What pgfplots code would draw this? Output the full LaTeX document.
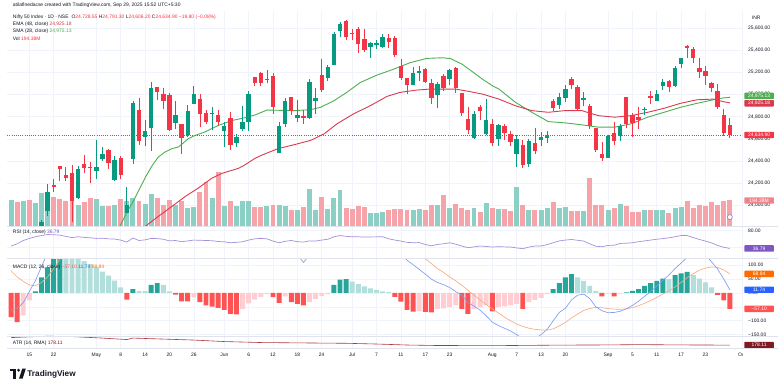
\documentclass[border=0pt]{standalone}
\usepackage{fontspec}
\setmainfont{Liberation Sans}
\usepackage{pgfplots}
\usepackage{pgfplotstable}
\pgfplotsset{compat=1.18}

\definecolor{upc}{HTML}{089981}
\definecolor{dnc}{HTML}{F23645}
\definecolor{vup}{HTML}{8BCFC5}
\definecolor{vdn}{HTML}{F6A3A9}
\definecolor{smac}{HTML}{4CAF50}
\definecolor{emac}{HTML}{D83A4E}
\definecolor{gridc}{HTML}{F0F3FA}
\definecolor{sepc}{HTML}{E0E3EB}
\definecolor{txt}{HTML}{131722}
\definecolor{rsic}{HTML}{A58FDA}
\definecolor{rsibox}{HTML}{7E57C2}
\definecolor{macdc}{HTML}{7D9DF3}
\definecolor{macdbox}{HTML}{2962FF}
\definecolor{sigc}{HTML}{F5AD7E}
\definecolor{sigbox}{HTML}{FF6D00}
\definecolor{hdark}{HTML}{26A69A}
\definecolor{hlight}{HTML}{B2DFDB}
\definecolor{hred}{HTML}{FF5252}
\definecolor{hpink}{HTML}{FFCDD2}
\definecolor{atrc}{HTML}{B0363C}
\definecolor{atrbox}{HTML}{801922}
\definecolor{volbox}{HTML}{F0848B}
\definecolor{iconc}{HTML}{9575CD}

\newcommand\sm{\fontsize{5}{6}\selectfont}

\pgfplotstableread{
k O H L C V
0 22446 22698 22270 22536 199
2 22695 22923 22695 22829 187
4 23345 23452 23273 23437 174
5 23401 23872 23298 23852 249
6 23949 24189 23903 24125 237
11 24070 24355 24054 24328 161
14 24311 24589 24238 24347 204
15 24419 24526 24400 24461 149
17 24233 24449 24220 24414 161
19 23935 24164 23935 24008 191
20 24420 24944 24378 24925 212
22 24613 24767 24535 24667 169
23 24694 25116 24494 25062 244
27 24744 24946 24685 24813 161
29 24639 24909 24614 24853 136
30 24919 25079 24912 25001 141
33 24825 24892 24677 24834 212
35 24669 24754 24526 24717 153
37 24561 24644 24530 24621 153
38 24691 24899 24671 24751 191
39 24749 25029 24671 25003 187
42 25134 25222 25100 25141 149
44 24474 24754 24473 24719 161
45 24733 24967 24704 24946 153
47 24788 24947 24750 24812 119
49 24787 25136 24783 25112 280
50 24939 25058 24825 24972 123
52 25150 25266 25125 25245 129
53 25268 25561 25266 25549 212
54 25576 25654 25523 25637 274
59 25428 25470 25331 25461 98
60 25451 25489 25407 25461 98
61 25427 25548 25424 25523 106
66 25090 25245 25088 25196 123
67 25196 25255 25121 25212 129
70 24999 25111 24882 25091 156
72 25139 25233 25085 25220 136
76 24609 24848 24598 24821 136
78 24642 24956 24635 24768 174
80 24596 24736 24536 24723 129
83 24464 24634 24344 24596 300
85 24371 24603 24347 24585 123
87 24586 24664 24539 24619 123
88 24607 24674 24563 24631 136
90 24904 25012 24873 24981 136
91 24965 25088 24929 25051 144
94 24949 25022 24893 24968 116
98 24432 24636 24432 24625 119
100 24628 24730 24584 24715 166
104 24864 24891 24815 24869 123
106 24945 25037 24940 25006 123
107 25074 25139 25037 25114 123
109 25074 25261 25071 25239 136
110 25277 25331 25236 25330 141
}\uptab

\pgfplotstableread{
k O H L C V
1 22460 22468 22353 22399 179
3 23368 23368 23207 23328 194
7 24185 24242 24119 24167 217
8 24357 24359 24216 24329 204
9 24277 24347 24216 24247 187
10 24289 24365 23847 24039 191
12 24370 24457 24290 24336 179
13 24342 24396 24198 24334 212
16 24500 24509 24331 24380 153
18 24431 24447 24238 24273 204
21 24864 24973 24547 24578 191
24 25064 25070 24953 25020 212
25 25006 25062 24874 24945 161
26 24996 25011 24669 24683 199
28 24734 24737 24463 24610 191
31 24957 25002 24704 24826 255
32 24832 24864 24737 24752 338
34 24812 24863 24717 24751 414
36 24787 24845 24502 24543 187
40 25160 25160 25077 25103 141
41 25196 25199 25081 25104 144
43 25164 25196 24825 24888 161
46 24977 24982 24813 24853 123
48 24803 24863 24733 24793 141
51 25179 25318 25026 25044 219
55 25661 25669 25489 25517 136
56 25551 25593 25488 25542 131
57 25588 25608 25378 25453 153
58 25505 25587 25384 25405 141
62 25514 25548 25424 25476 123
63 25511 25525 25340 25355 131
64 25255 25322 25129 25150 131
65 25149 25151 25001 25082 123
68 25231 25238 25101 25112 123
69 25108 25144 24918 24968 161
71 25166 25182 25035 25061 237
73 25243 25246 25018 25062 166
74 25010 25010 24806 24837 136
75 24782 24889 24646 24681 123
77 24890 24902 24771 24855 106
79 24734 24784 24535 24565 140
81 24720 24733 24590 24650 129
82 24641 24671 24539 24574 111
84 24544 24586 24337 24363 156
86 24563 24702 24465 24487 123
89 24938 24956 24852 24877 181
92 25142 25154 25054 25083 116
93 25064 25084 24859 24870 111
95 24900 24919 24689 24712 363
96 24695 24702 24481 24501 161
97 24466 24572 24404 24427 161
99 24654 24756 24543 24580 136
101 24981 24981 24694 24734 149
102 24818 24832 24621 24741 106
103 24802 24885 24692 24773 106
105 24991 25035 24915 24973 123
108 25118 25127 25026 25069 98
111 25441 25449 25329 25424 191
112 25410 25428 25286 25327 136
113 25239 25331 25151 25202 156
114 25210 25261 25084 25170 149
115 25108 25115 25027 25057 179
116 25035 25093 24868 24891 161
117 24818 24868 24629 24655 191
118 24728.55 24791.30 24606.20 24634.90 194.38
}\dntab

\pgfplotstableread{
k v
17 23720
18 23827
19.1 23947
19.9 24021
21 24140
22.1 24259
23.2 24363
24.2 24438
25.3 24483
26.4 24512
27.5 24528
29.1 24602
30.2 24631
31.8 24662
34 24721
36.2 24765
38.3 24790
40 24815
42 24860
44 24858
46.5 24855
49.2 24864
50.8 24885
53 24944
55.1 25019
57.3 25108
60 25174
62.7 25227
65.5 25287
68.2 25326
70.9 25332
72.2 25323
74.1 25272
76.3 25183
77.4 25138
79 25080
80.1 25049
82.8 24930
85.5 24840
88.2 24756
90.9 24745
93.7 24727
96.4 24706
99.1 24706
101.8 24736
104.5 24796
107.2 24840
109.9 24885
112.6 24921
115.3 24953
117 24970
118 24975.13
}\smatab

\pgfplotstableread{
k v
20 23700
22.4 23827
24.2 23902
26.4 23991
28.6 24081
30.7 24155
32.9 24244
34.6 24289
37.3 24334
38.3 24363
40 24423
41.1 24452
43.8 24512
46.5 24548
49.2 24587
51.4 24646
53.5 24736
56.2 24825
58.95 24899
61.7 24983
63.8 25019
66.5 25040
68.7 25049
70.9 25049
73 25049
75.2 25028
77.4 25004
80.1 24959
82.8 24899
85.5 24855
88.2 24840
90.9 24855
93.7 24855
96.4 24810
99.1 24796
101.8 24810
104.5 24840
107.2 24876
109.9 24921
112.6 24953
115.3 24959
117 24935
118 24925.18
}\ematab

\pgfplotstableread{
k v
0 42.6
1 48
2 56
3 61
4 65
5 68
6 70.4
7 70
8 69
9 66
10 63
11 65
12 63.5
13 62.5
14 61
15 61.5
16 60
17 59.5
18 57
19 52
20 62
21 56
22 57.5
23 61
24 60.5
25 59
26 55
27 56
28 52.9
29 55
30 57
31 56.5
32 56
33 55.5
34 53.5
35 52.9
36 50.5
37 51.5
38 52.9
39 57
40 60
41 61
42 60
43 54.6
44 50.5
45 54
46 56
47 53
48 52.2
49 55
50 54.6
51 57
52 59
53 64.9
54 68
55 66
56 65
57 64.9
58 64.2
59 64.5
60 64.9
61 65
62 60
63 57
64 54.6
65 51.5
66 50.5
67 51
68 46.4
69 43
70 46.4
71 48
72 50.5
73 47
74 42.6
75 38.5
76 40.5
77 42.6
78 41.5
79 40.2
80 40.9
81 40.5
82 40.2
83 38
84 36.1
85 40
86 42.6
87 42.6
88 46
89 50.5
90 55
91 57
92 58.4
93 56.5
94 54.6
95 48
96 42
97 40.9
98 44
99 44.5
100 48.8
101 49.5
102 50.5
103 53
104 55
105 57
106 59
107 60.5
108 62.5
109 65
110 68
111 68
112 63
113 58.5
114 54.6
115 50
116 44
117 39.5
118 36.79
}\rsitab

\pgfplotstableread{
k v
0 -62
1 -56
2 -35
3 5
4 45
5 95
6 145
7 190
8 230
10 260
20 230
30 200
40 180
44 160
46 145
47 138
48 110
49 138
50 155
55 210
60 190
63 165
64 148
65 118
66 102
67 85
68 68
69 50
70 38
71 30
72 20
73 5
74 -8
75 -35
76 -47
77 -62
78 -82
79 -105
80 -117
81 -127
82 -137
83 -150
84 -165
85 -172
86 -165
87 -150
88 -131
89 -100
90 -70
91 -55
92 -25
93 -8
94 -4
95 -20
96 -50
97 -64
98 -71
99 -70
100 -66
101 -57
102 -45
103 -30
104 -12
105 5
106 25
107 45
108 65
109 88
110 108
111 128
112 145
113 150
114 138
115 112
116 86
117 50
118 11.74
}\macdtab

\pgfplotstableread{
k v
0 80
1 58
2 42
3 29
4 26
5 38
6 58
7 88
8 122
9 155
10 180
20 280
40 250
60 200
65 175
66 160
67 142
68 124
69 106
70 88
71 74
72 58
73 44
74 28
75 10
76 -8
77 -25
78 -42
79 -57
80 -72
81 -87
82 -100
83 -112
84 -120
85 -127
86 -131
87 -133
88 -134
89 -129
90 -119
91 -106
92 -90
93 -76
94 -63
95 -56
96 -52
97 -53
98 -56
99 -58
100 -59
101 -57
102 -53
103 -46
104 -37
105 -27
106 -16
107 -4
108 8
109 22
110 38
111 55
112 70
113 82
114 90
115 94
116 92
117 83
118 68.84
}\sigtab

\pgfplotstableread{
k h
4 6
5 56
6 92
7 125
8 140
20 14
23 29
24 36
53 29
54 48
55 50
89 14
90 36
91 56
92 68
101 2
102 8
103 14
104 26
105 36
106 44
107 52
109 64
110 71
111 76
}\hdk

\pgfplotstableread{
k h
9 135
10 128
11 122
12 115
13 104
14 92
15 77
16 63
17 45
18 20
21 7
22 7
25 29
26 6
56 41
57 32
58 24
59 17
60 11
61 6
62 3
93 56
94 44
95 26
96 8
108 50
112 64
113 52
114 38
115 20
}\hlt

\pgfplotstableread{
k h
0 -87
1 -105
19 -24
27 -6
28 -30
29 -30
31 -33
32 -45
33 -49
34 -54
35 -61
36 -75
37 -77
43 -15
44 -36
46 -33
47 -39
48 -45
63 -14
64 -31
65 -61
66 -67
68 -68
69 -70
74 -57
75 -75
79 -66
84 -57
97 -12
99 -12
116 -7
117 -27
118 -57.1
}\hrd

\pgfplotstableread{
k h
2 -81
3 -27
30 -16
38 -57
39 -37
40 -24
41 -14
42 -4
45 -12
49 -33
50 -21
51 -10
52 -4
67 -65
70 -57
71 -55
72 -50
73 -45
76 -57
77 -52
78 -45
80 -51
81 -48
82 -45
83 -39
85 -33
86 -25
87 -18
88 -4
98 -2
100 -2
}\hpk

\pgfplotstableread{
k v
0 330
3 345
6 358
10 350
15 320
19 290
20 320
25 300
30 280
35 250
41 230
50 220
55 215
60 200
65 180
70 170
80 168
84 172
90 178
98 182
103 188
110 182
118 178.11
}\atrtab

\pgfplotsset{
  pane/.style={
    scale only axis, width=742pt, anchor=south west,
    xmin=-0.70, xmax=120.0,
    scaled x ticks=false, scaled y ticks=false,
    axis line style={draw=none}, major tick length=0pt,
    xtick={3,7,14,18,22,26,30,35,39,43,47,51,56,60,64,68,72,79,83,87,91,98,102,106,110,114,120},
    xticklabels={}, yticklabels={},
    grid style={draw=gridc, line width=0.6pt},
  },
  wick/.style={draw=none, mark=none, forget plot,
    error bars/.cd, y dir=plus, y explicit, error mark=none,
    error bar style={draw=#1, line width=0.8pt}},
  body/.style={draw=none, mark=none, forget plot,
    error bars/.cd, y dir=plus, y explicit, error mark=none,
    error bar style={draw=#1, line width=4.4pt}},
  volb/.style={draw=none, mark=none, forget plot,
    error bars/.cd, y dir=plus, y explicit, error mark=none,
    error bar style={draw=#1, line width=5pt}},
  hbar/.style={ybar, bar width=5pt, bar shift=0pt, fill=#1, draw=none, forget plot},
}
\tikzset{
  tl/.style={anchor=west, inner sep=0pt, font=\sm, text=txt},
  pbox/.style={anchor=west, inner xsep=1.6pt, inner ysep=0pt, minimum height=6.4pt,
    minimum width=30pt, text=white, font=\sm, rounded corners=0.8pt},
  lg/.style={anchor=west, inner sep=0pt, font=\sm, text=txt},
}

\begin{document}
\begin{tikzpicture}[x=1pt,y=1pt]
\fill[white] (0pt,0pt) rectangle (778pt,387pt);

% ---------- main pane grid + right labels
\begin{axis}[pane, at={(0pt,159pt)}, height=217pt, ymin=23815.3, ymax=25754.6,
  ytick={24000,24200,...,25600}, xmajorgrids, ymajorgrids,
  after end axis/.code={
    \node[tl] at (axis cs:121.6,25689) {INR};
    \node[tl] at (axis cs:120.98,25600) {25,600.00};
    \node[tl] at (axis cs:120.98,25400) {25,400.00};
    \node[tl] at (axis cs:120.98,25200) {25,200.00};
    \node[tl] at (axis cs:120.98,25000) {25,000.00};
    \node[tl] at (axis cs:120.98,24800) {24,800.00};
    \node[tl] at (axis cs:120.98,24600) {24,600.00};
    \node[tl] at (axis cs:120.98,24400) {24,400.00};
    \node[tl] at (axis cs:120.98,24200) {24,200.00};
    \node[tl] at (axis cs:120.98,24000) {24,000.00};
  }]
\addplot[draw=none, forget plot] coordinates {(0,24000) (1,24000)};
\end{axis}

% ---------- volume
\begin{axis}[pane, at={(0pt,159pt)}, height=217pt, ymin=0, ymax=1640.5,
  xtick=\empty, ytick=\empty]
\addplot[volb=vup] table[x=k, y expr=0, y error plus=V] {\uptab};
\addplot[volb=vdn] table[x=k, y expr=0, y error plus=V] {\dntab};
\end{axis}

% ---------- price
\begin{axis}[pane, at={(0pt,159pt)}, height=217pt, ymin=23815.3, ymax=25754.6,
  xtick=\empty, ytick=\empty,
  after end axis/.code={
    \node[pbox, fill=smac] at (axis cs:120.33,24987.8) {24,975.13};
    \node[pbox, fill=emac] at (axis cs:120.33,24920.8) {24,925.18};
    \node[pbox, fill=dnc] at (axis cs:120.33,24634.9) {24,634.90};
    \node[pbox, fill=volbox] at (axis cs:120.33,24045) {194.38M};
    \node[circle, draw=iconc, fill=white, line width=0.6pt, minimum size=5pt, inner sep=0pt] at (axis cs:118,23895) {};
  }]
\addplot[smac, line width=0.9pt, line join=round] table[x=k,y=v] {\smatab};
\addplot[emac, line width=0.9pt, line join=round] table[x=k,y=v] {\ematab};
\addplot[wick=upc] table[x=k, y=L, y error plus expr={\thisrow{H}-\thisrow{L}}] {\uptab};
\addplot[wick=dnc] table[x=k, y=L, y error plus expr={\thisrow{H}-\thisrow{L}}] {\dntab};
\addplot[body=upc] table[x=k, y=O, y error plus expr={max(\thisrow{C}-\thisrow{O},9)}] {\uptab};
\addplot[body=dnc] table[x=k, y=C, y error plus expr={max(\thisrow{O}-\thisrow{C},9)}] {\dntab};
\addplot[dnc, line width=0.5pt, dash pattern=on 1pt off 1.2pt] coordinates {(-1,24634.9) (121,24634.9)};
\end{axis}

% ---------- RSI
\begin{axis}[pane, at={(0pt,126pt)}, height=33pt, ymin=12.1, ymax=91.3,
  ytick={40,80}, xmajorgrids, ymajorgrids,
  after end axis/.code={
    \node[tl] at (axis cs:120.98,80) {80.00};
    \node[pbox, fill=rsibox] at (axis cs:120.33,36.79) {36.79};
  }]
\addplot[rsic, line width=0.7pt, line join=round] table[x=k,y=v] {\rsitab};
\end{axis}

% ---------- MACD
\begin{axis}[pane, at={(0pt,48pt)}, height=78pt, ymin=-154.6, ymax=123.9,
  ytick={-150,-100,-50,0,50,100}, xmajorgrids, ymajorgrids,
  after end axis/.code={
    \node[tl] at (axis cs:120.98,100) {100.00};
    \node[tl] at (axis cs:120.98,50) {50.00};
    \node[tl] at (axis cs:120.98,0) {0.00};
    \node[tl] at (axis cs:120.98,-100) {−100.00};
    \node[tl] at (axis cs:120.98,-150) {−150.00};
    \node[pbox, fill=sigbox] at (axis cs:120.33,68.84) {68.84};
    \node[pbox, fill=macdbox] at (axis cs:120.33,11.74) {11.74};
    \node[pbox, fill=hred] at (axis cs:120.33,-57.10) {−57.10};
  }]
\addplot[hbar=hdark] table[x=k,y=h] {\hdk};
\addplot[hbar=hlight] table[x=k,y=h] {\hlt};
\addplot[hbar=hred] table[x=k,y=h] {\hrd};
\addplot[hbar=hpink] table[x=k,y=h] {\hpk};
\addplot[sigc, line width=0.65pt, line join=round] table[x=k,y=v] {\sigtab};
\addplot[macdc, line width=0.65pt, line join=round] table[x=k,y=v] {\macdtab};
\end{axis}

% ---------- ATR + time axis
\begin{axis}[pane, at={(0pt,35pt)}, height=13pt, ymin=104, ymax=364,
  ytick=\empty, xmajorgrids,
  xticklabels={15,22,May,8,14,20,26,Jun,6,12,18,24,Jul,7,11,17,23,Aug,7,13,20,Sep,5,11,17,23,Oct},
  xticklabel style={font=\sm, text=txt, anchor=base, yshift=-8pt, inner sep=0pt},
  after end axis/.code={
    \node[pbox, fill=atrbox] at (axis cs:120.33,178.11) {178.11};
  }]
\addplot[atrc, line width=0.6pt, line join=round] table[x=k,y=v] {\atrtab};
\end{axis}

% ---------- separators
\draw[sepc, line width=0.6pt] (0,159) -- (778,159);
\draw[sepc, line width=0.6pt] (0,126) -- (778,126);
\draw[sepc, line width=0.6pt] (0,48) -- (778,48);
\draw[sepc, line width=0.6pt] (0,35) -- (778,35);
\fill[white] (742.9,18) rectangle (778,34.6);

% ---------- legends
\node[lg] at (6,381.3) {atilaflnedacse created with TradingView.com, Sep 29, 2025 15:52 UTC+5:30};
\node[lg] at (6,369.7) {Nifty 50 Index · 1D · NSE\hspace{3pt}O\textcolor{dnc}{24,728.55} H\textcolor{dnc}{24,791.30} L\textcolor{dnc}{24,606.20} C\textcolor{dnc}{24,634.90 −19.80 (−0.08\%)}};
\node[lg] at (6,362.3) {EMA (48, close)\ \textcolor{emac}{24,925.18}};
\node[lg] at (6,355.3) {SMA (28, close)\ \textcolor{smac}{24,975.13}};
\node[lg] at (6,348.3) {Vol\ \textcolor{dnc}{194.38M}};
\node[lg] at (6,153) {RSI (14, close)\ \textcolor{rsibox}{36.79}};
\node[lg] at (6,117.7) {MACD (12, 26, close)\ \textcolor{hred}{−57.10}\ \textcolor{macdbox}{11.74}\ \textcolor{sigbox}{68.84}};
\node[lg] at (6,41) {ATR (14, RMA)\ \textcolor{atrbox}{178.11}};

% ---------- TradingView logo
\fill[txt] (3,15) rectangle (9.6,12.3);
\fill[txt] (6.3,12.3) rectangle (9.6,5);
\fill[txt] (11.9,13.4) circle (1.6);
\fill[txt] (12.4,5) -- (15.6,15) -- (19.2,15) -- (16,5) -- cycle;
\node[anchor=base west, inner sep=0pt, font=\fontsize{8.3}{9}\selectfont\bfseries, text=txt] at (20.6,6.8) {TradingView};
\end{tikzpicture}
\end{document}
